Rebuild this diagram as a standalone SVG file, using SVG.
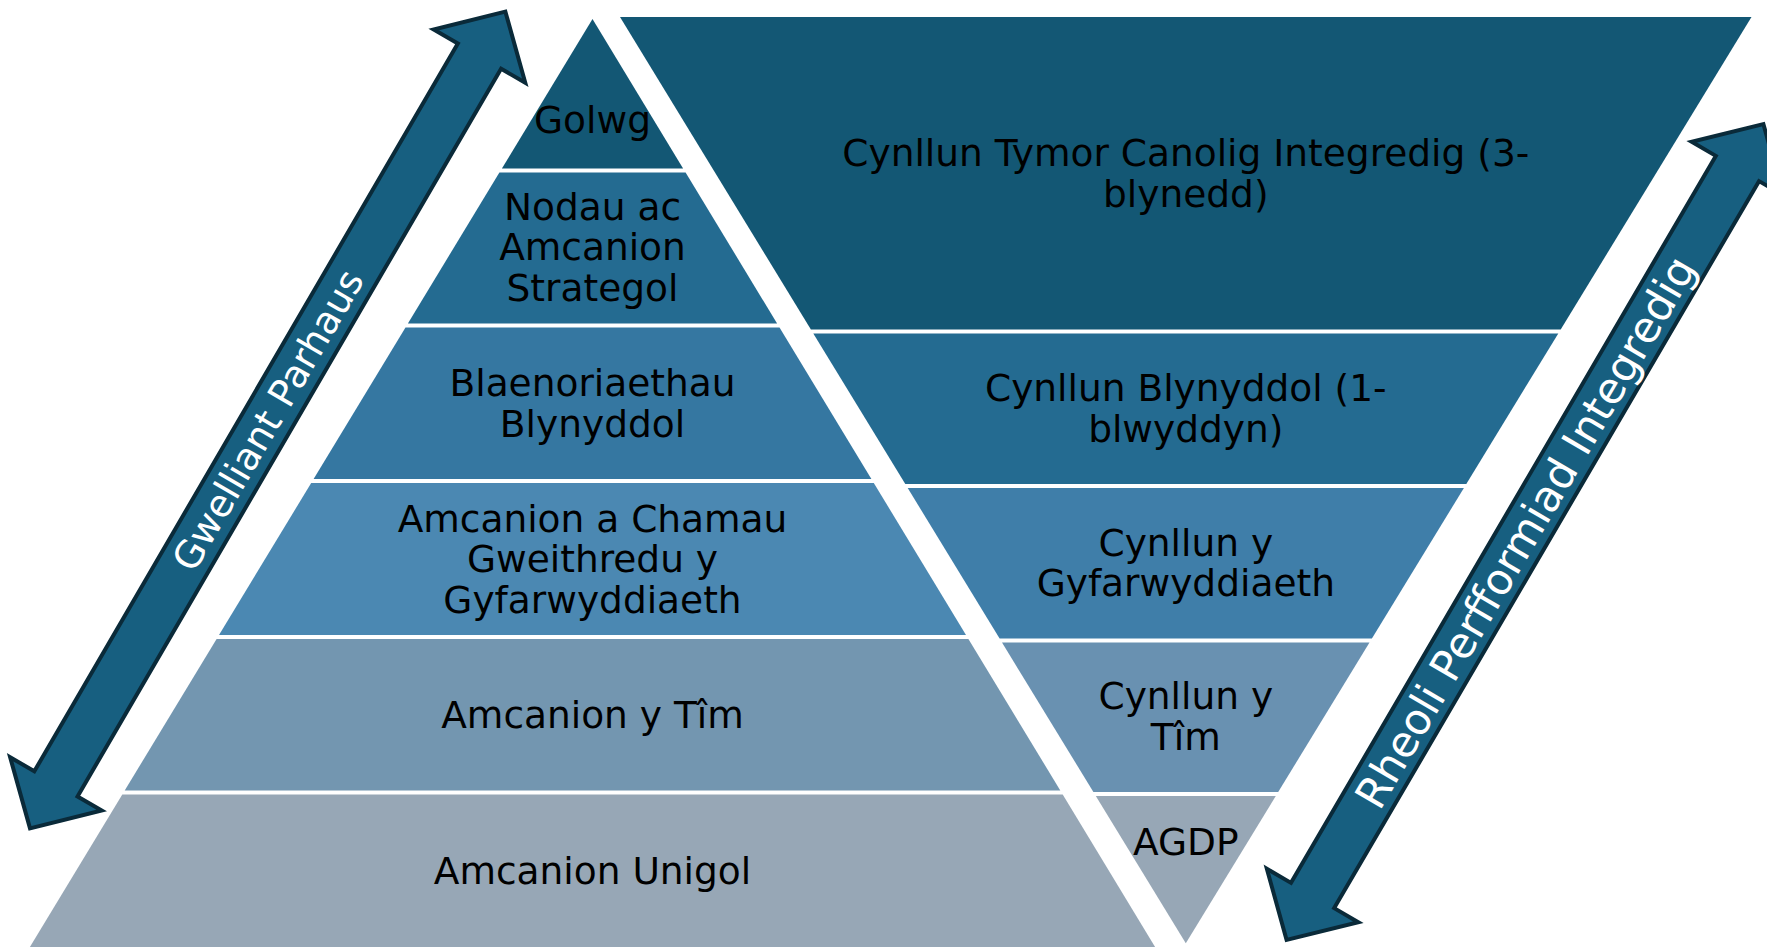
<svg xmlns="http://www.w3.org/2000/svg" width="1767" height="947" viewBox="0 0 1767 947">
<style>
.lbl{font-family:"DejaVu Sans","Verdana","Liberation Sans",sans-serif;font-size:37.5px;fill:#000;text-anchor:middle}
.arrtxt{font-family:"DejaVu Sans","Verdana","Liberation Sans",sans-serif;fill:#fff;text-anchor:middle}
.arrow{fill:#175f80;stroke:#0a2a39;stroke-width:4;stroke-linejoin:miter}
.c1{fill:#135774}.c2{fill:#246b91}.c3{fill:#3577a1}.c4{fill:#4b88b2}.c5{fill:#7396b0}.c6{fill:#97a7b6}
.r3{fill:#3f7ea9}.r4{fill:#6991b1}
</style>
<defs>
<polygon id="dblarrow" points="-472.5,0 -421,-53 -421,-25 421,-25 421,-53 472.5,0 421,53 421,25 -421,25 -421,53"/>
</defs>
<rect width="1767" height="947" fill="#fff"/>
<g id="pyramid">
<g id="golwg"><polygon class="c1" points="592.5,19 683.1,168.5 501.9,168.5"/><text class="lbl" x="592.5" y="133">Golwg</text></g>
<g id="nodau"><polygon class="c2" points="499.4,172.5 685.6,172.5 777.1,323.5 407.9,323.5"/><text class="lbl" x="592.5" y="219.5">Nodau ac</text><text class="lbl" x="592.5" y="260">Amcanion</text><text class="lbl" x="592.5" y="300.5">Strategol</text></g>
<g id="blaenoriaethau"><polygon class="c3" points="405.5,327.5 779.5,327.5 871.4,479 313.6,479"/><text class="lbl" x="592.5" y="396">Blaenoriaethau</text><text class="lbl" x="592.5" y="436.5">Blynyddol</text></g>
<g id="amcanion-cyfarwyddiaeth"><polygon class="c4" points="311.2,483 873.8,483 966,635 219,635"/><text class="lbl" x="592.5" y="531.5">Amcanion a Chamau</text><text class="lbl" x="592.5" y="572">Gweithredu y</text><text class="lbl" x="592.5" y="612.5">Gyfarwyddiaeth</text></g>
<g id="amcanion-tim"><polygon class="c5" points="216.6,639 968.4,639 1060.3,790.5 124.7,790.5"/><text class="lbl" x="592.5" y="728">Amcanion y Tîm</text></g>
<g id="amcanion-unigol"><polygon class="c6" points="122.3,794.5 1062.7,794.5 1155.1,947 29.9,947"/><text class="lbl" x="592.5" y="883.5">Amcanion Unigol</text></g>
</g>
<g id="plans">
<g id="cynllun-tymor-canolig"><polygon class="c1" points="620,17 1751.5,17 1560.7,329.5 810.9,329.5"/><text class="lbl" x="1185.8" y="166">Cynllun Tymor Canolig Integredig (3-</text><text class="lbl" x="1185.8" y="206.5">blynedd)</text></g>
<g id="cynllun-blynyddol"><polygon class="c2" points="813.3,333.5 1558.3,333.5 1466.3,484 905.3,484"/><text class="lbl" x="1185.8" y="401">Cynllun Blynyddol (1-</text><text class="lbl" x="1185.8" y="441.5">blwyddyn)</text></g>
<g id="cynllun-cyfarwyddiaeth"><polygon class="r3" points="907.7,488 1463.9,488 1371.9,638.5 999.6,638.5"/><text class="lbl" x="1185.8" y="555.5">Cynllun y</text><text class="lbl" x="1185.8" y="596">Gyfarwyddiaeth</text></g>
<g id="cynllun-tim"><polygon class="r4" points="1002,642.5 1369.5,642.5 1278.2,792 1093.4,792"/><text class="lbl" x="1185.8" y="709">Cynllun y</text><text class="lbl" x="1185.8" y="749.5">Tîm</text></g>
<g id="agdp"><polygon class="c6" points="1095.8,796 1275.8,796 1185.8,943.3"/><text class="lbl" x="1185.8" y="855">AGDP</text></g>
</g>
<g id="connectors">
<g id="gwelliant-parhaus" transform="translate(267.7,420) rotate(-59.8)"><use href="#dblarrow" class="arrow"/><text class="arrtxt" x="0" y="13.5" font-size="38">Gwelliant Parhaus</text></g>
<g id="rheoli-perfformiad" transform="translate(1525,532) rotate(-59.7)"><use href="#dblarrow" class="arrow"/><text class="arrtxt" x="0" y="15.5" font-size="43">Rheoli Perfformiad Integredig</text></g>
</g>
</svg>
